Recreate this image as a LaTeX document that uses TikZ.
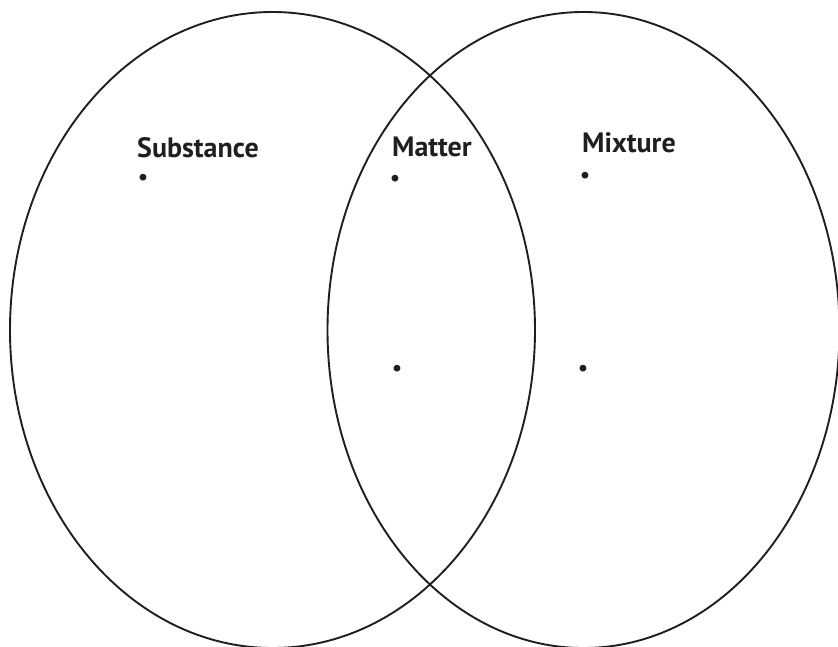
\documentclass[tikz,border=0pt]{standalone}
\usepackage{fontspec}
\setmainfont{PT Sans}
\begin{document}
\begin{tikzpicture}[x=1pt,y=1pt,
  set/.style={draw=black!88,line width=1.9pt},
  lbl/.style={anchor=base west,inner sep=0pt,font=\bfseries\fontsize{28}{30}\selectfont,text=black!88},
  bul/.style={inner sep=0pt,font=\bfseries\fontsize{22}{24}\selectfont,text=black!88}]
\useasboundingbox (0,0) rectangle (838,-646);
\begin{scope}
\clip (0,0) rectangle (838,-646);
\draw[set] (272.5,-330) ellipse [x radius=262.5, y radius=318];
\draw[set] (583.5,-330) ellipse [x radius=256, y radius=318];
\end{scope}
\node[lbl] (sub) at (137,-157) {Substance};
\node[lbl] (mat) at (392,-156) {Matter};
\node[lbl] (mix) at (582,-152) {Mixture};
\node[bul] (b1) at (143,-179) {•};
\node[bul] (b2) at (395,-180) {•};
\node[bul] (b3) at (585,-177) {•};
\node[bul] (b4) at (397,-370) {•};
\node[bul] (b5) at (583,-370) {•};
\end{tikzpicture}
\end{document}
